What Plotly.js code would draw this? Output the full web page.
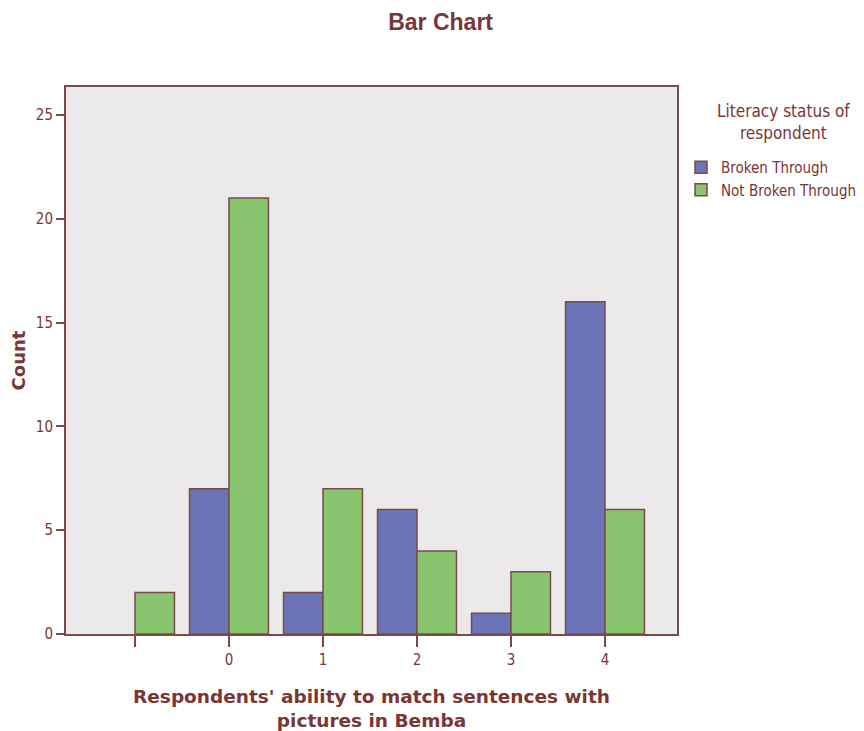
<!DOCTYPE html>
<html>
<head>
<meta charset="utf-8">
<script src="https://cdn.plot.ly/plotly-3.0.1.min.js"></script>
<style>html,body{margin:0;padding:0;background:#fff;}#chart{width:864px;height:731px;}</style>
</head>
<body>
<div id="chart"></div>
<script>
const categories = ["", "0", "1", "2", "3", "4"];
const brokenThrough = [null, 7, 2, 6, 1, 16];
const notBrokenThrough = [2, 21, 7, 4, 3, 6];
const yTicks = [0, 5, 10, 15, 20, 25];

const txt = '#7a3535';
const line = '#7b4a4a';
const narrow = '"DejaVu Sans Condensed", "Liberation Sans Narrow", "Liberation Sans", sans-serif';
const xpos = categories.map((c, i) => i);

const traces = [
  {type: 'bar', name: 'Broken Through', x: xpos, y: brokenThrough,
   marker: {color: '#6a74b6', line: {color: line, width: 1.5}}},
  {type: 'bar', name: 'Not Broken Through', x: xpos, y: notBrokenThrough,
   marker: {color: '#89c46e', line: {color: line, width: 1.5}}}
];

const layout = {
  width: 864, height: 731,
  paper_bgcolor: '#ffffff', plot_bgcolor: '#ebe9ea',
  font: {family: narrow, color: txt, size: 14},
  margin: {l: 66, r: 187, t: 87, b: 97, autoexpand: false},
  barmode: 'group', bargap: 0.16, bargroupgap: 0,
  title: {text: 'Bar Chart', x: 0.51, xanchor: 'center', y: 0.97, yanchor: 'middle',
          font: {family: '"Liberation Sans", Arial, sans-serif', size: 23, color: txt, weight: 'bold'}},
  xaxis: {
    range: [-0.734, 5.766], tickmode: 'array', tickvals: xpos, ticktext: categories,
    ticks: 'outside', ticklen: 11, tickwidth: 2, tickcolor: line,
    showline: true, linecolor: line, linewidth: 2, mirror: true, showgrid: false, zeroline: false,
    tickfont: {size: 15, color: txt},
    title: {text: "Respondents' ability to match sentences with<br>pictures in Bemba", standoff: 22,
            font: {family: '"DejaVu Sans", "Liberation Sans", sans-serif', size: 18.5, color: txt, weight: 'bold'}}
  },
  yaxis: {
    range: [0, 26.35], tickmode: 'array', tickvals: yTicks,
    ticks: 'outside', ticklen: 8, tickwidth: 2, tickcolor: line,
    showline: true, linecolor: line, linewidth: 2, mirror: true, showgrid: false, zeroline: false,
    tickfont: {size: 15, color: txt},
    title: {text: 'Count', standoff: 6,
            font: {family: '"DejaVu Sans", "Liberation Sans", sans-serif', size: 18, color: txt, weight: 'bold'}}
  },
  legend: {
    xref: 'container', yref: 'container', x: 681 / 864, xanchor: 'left', y: 1 - 151 / 731, yanchor: 'top',
    bgcolor: 'rgba(0,0,0,0)', traceorder: 'normal', itemwidth: 30, tracegroupgap: 0,
    font: {size: 15, color: txt, family: narrow}
  },
  annotations: [{
    xref: 'paper', yref: 'paper', x: (783 - 66) / (677 - 66), y: (635 - 122) / (635 - 87),
    text: 'Literacy status of<br>respondent', showarrow: false, align: 'center',
    xanchor: 'center', yanchor: 'middle', font: {size: 17, color: txt, family: narrow}
  }],
  showlegend: true
};

Plotly.newPlot('chart', traces, layout, {displayModeBar: false, staticPlot: true});
</script>
</body>
</html>
